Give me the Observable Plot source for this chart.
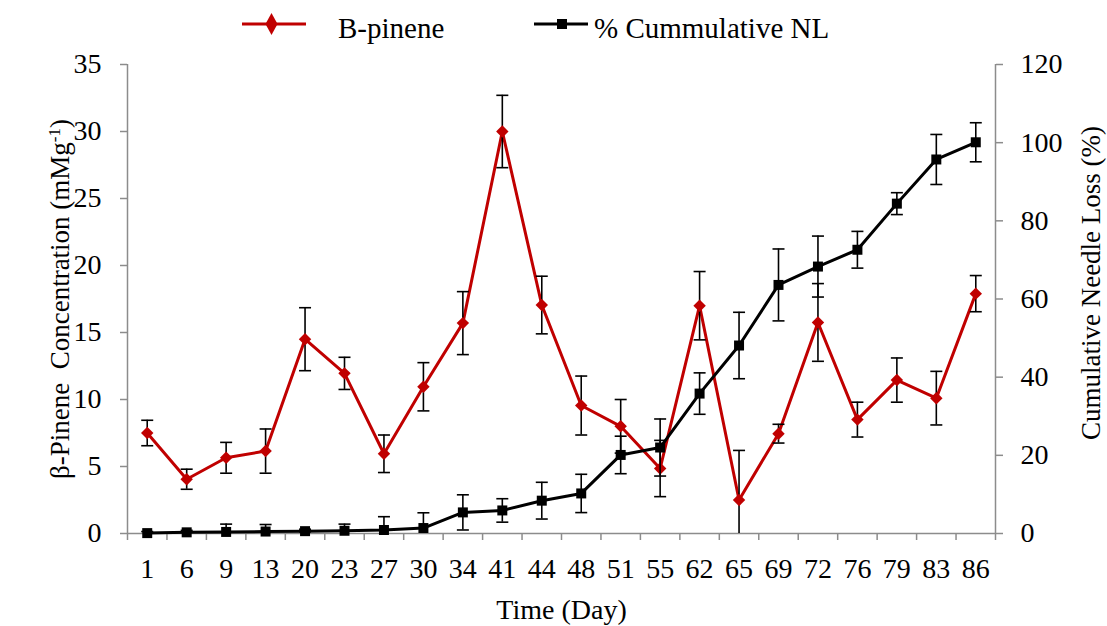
<!DOCTYPE html>
<html><head><meta charset="utf-8">
<script src="https://cdn.jsdelivr.net/npm/d3@7"></script>
<script src="https://cdn.jsdelivr.net/npm/@observablehq/plot@0.6"></script>
<style>
body{margin:0;background:#fff;}
#wrap{width:1107px;height:626px;position:relative;overflow:hidden;background:#fff;font-family:"Liberation Serif","Times New Roman",serif;}
#legend{position:relative;width:1107px;height:42px;}
#legend span{position:absolute;top:14px;font-size:29px;line-height:29px;white-space:nowrap;color:#000;}
#legend svg{position:absolute;left:0;top:0;}
#chart svg text{font-family:"Liberation Serif","Times New Roman",serif;}
</style></head><body>
<div id="wrap">
  <div id="legend">
    <svg width="1107" height="42">
      <line x1="242" x2="306" y1="24" y2="24" stroke="#C00000" stroke-width="3"/>
      <polygon points="271.5,13 277.5,24 271.5,35 265.5,24" fill="#C00000"/>
      <line x1="534" x2="588" y1="24" y2="24" stroke="#000" stroke-width="3"/>
      <rect x="557" y="19" width="10" height="10" fill="#000"/>
    </svg>
    <span id="lg1" style="left:338px"></span>
    <span id="lg2" style="left:594px"></span>
  </div>
  <div id="chart"></div>
</div>
<script>
// ---- data ----
const seriesNames = ["B-pinene", "% Cummulative NL"];
const days = [1, 6, 9, 13, 20, 23, 27, 30, 34, 41, 44, 48, 51, 55, 62, 65, 69, 72, 76, 79, 83, 86];
const pinene = [7.5, 4.05, 5.65, 6.15, 14.5, 11.95, 5.95, 10.95, 15.7, 30.0, 17.05, 9.55, 8.0, 4.85, 17.0, 2.5, 7.45, 15.75, 8.5, 11.45, 10.1, 17.9];
const pineneErr = [0.95, 0.75, 1.15, 1.65, 2.35, 1.2, 1.4, 1.8, 2.35, 2.7, 2.15, 2.2, 2.0, 2.1, 2.55, 3.7, 0.7, 2.9, 1.3, 1.65, 2.0, 1.35];
const needleLoss = [0.1, 0.3, 0.4, 0.5, 0.6, 0.7, 0.9, 1.4, 5.4, 5.9, 8.4, 10.25, 20.1, 22.0, 35.8, 48.1, 63.6, 68.3, 72.6, 84.4, 95.7, 100.1];
const needleLossErr = [0.4, 0.5, 2.0, 1.8, 0.5, 1.7, 3.4, 3.9, 4.5, 3.0, 4.7, 4.9, 4.8, 7.3, 5.3, 8.5, 9.2, 7.8, 4.7, 2.8, 6.4, 5.0];
const leftTicks = [0, 5, 10, 15, 20, 25, 30, 35];
const rightTicks = [0, 20, 40, 60, 80, 100, 120];
const xTitle = "Time (Day)";
const leftTitle = "β-Pinene  Concentration (mMg-1)";
const rightTitle = "Cumulative Needle Loss (%)";

// ---- build ----
document.getElementById("lg1").textContent = seriesNames[0];
document.getElementById("lg2").textContent = seriesNames[1];

const red = "#C00000", gray = "#8c8c8c";
const serif = '"Liberation Serif","Times New Roman",serif';
const k = leftTicks[leftTicks.length - 1] / rightTicks[rightTicks.length - 1];
const rows = days.map((day, i) => ({
  pos: i + 0.5, day,
  p: pinene[i], pe: pineneErr[i],
  n: needleLoss[i] * k, ne: needleLossErr[i] * k
}));
const capSym = {draw(ctx, size) { const h = Math.sqrt(size / Math.PI); ctx.moveTo(-h, 0); ctx.lineTo(h, 0); }};
const font = 28;
const blank = () => "";

const plot = Plot.plot({
  width: 1107, height: 584,
  marginTop: 22, marginBottom: 93, marginLeft: 127, marginRight: 112,
  style: {fontFamily: serif, fontSize: "28px", background: "white", color: "black", overflow: "visible"},
  x: {type: "linear", domain: [0, days.length], axis: null},
  y: {domain: [leftTicks[0], leftTicks[leftTicks.length - 1]], axis: null},
  marks: [
    Plot.ruleY([0], {stroke: gray, strokeWidth: 1.5}),
    Plot.ruleX([0, days.length], {stroke: gray, strokeWidth: 1.5}),
    // x axis: boundary ticks, centered labels
    Plot.axisX(d3.range(days.length + 1), {anchor: "bottom", tickSize: 7, stroke: gray, strokeWidth: 1.5, tickFormat: blank, label: null}),
    Plot.axisX(rows.map(d => d.pos), {anchor: "bottom", tickSize: 0, tickPadding: 25, tickFormat: v => days[Math.floor(v)], fontSize: font, fontFamily: serif, label: null, fill: "black"}),
    // left axis
    Plot.axisY(leftTicks, {anchor: "left", tickSize: 7, stroke: gray, strokeWidth: 1.5, tickFormat: blank, label: null}),
    Plot.axisY(leftTicks, {anchor: "left", tickSize: 0, tickPadding: 26, fontSize: font, fontFamily: serif, label: null, fill: "black"}),
    // right axis
    Plot.axisY(rightTicks.map(v => v * k), {anchor: "right", tickSize: 7, stroke: gray, strokeWidth: 1.5, tickFormat: blank, label: null}),
    Plot.axisY(rightTicks.map(v => v * k), {anchor: "right", tickSize: 0, tickPadding: 25, tickFormat: v => Math.round(v / k), fontSize: font, fontFamily: serif, label: null, fill: "black"}),
    // titles
    Plot.text([xTitle], {text: d => d, frameAnchor: "bottom", dy: 77, lineAnchor: "middle", textAnchor: "middle", fontSize: font, fontFamily: serif}),
    Plot.text([leftTitle], {text: d => d, frameAnchor: "left", rotate: -90, dx: -67, lineAnchor: "middle", textAnchor: "middle", fontSize: 27, fontFamily: serif}),
    Plot.text([rightTitle], {text: d => d, frameAnchor: "right", rotate: -90, dx: 96, dy: -16, lineAnchor: "middle", textAnchor: "middle", fontSize: 27, fontFamily: serif}),
    // B-pinene series
    Plot.line(rows, {x: "pos", y: "p", stroke: red, strokeWidth: 3}),
    Plot.ruleX(rows, {x: "pos", y1: d => d.p - d.pe, y2: d => d.p + d.pe, stroke: "black", strokeWidth: 1.6, clip: true}),
    Plot.dot(rows, {x: "pos", y: d => d.p + d.pe, symbol: capSym, r: 6, stroke: "black", fill: "none", strokeWidth: 1.6, clip: true}),
    Plot.dot(rows, {x: "pos", y: d => d.p - d.pe, symbol: capSym, r: 6, stroke: "black", fill: "none", strokeWidth: 1.6, clip: true}),
    Plot.dot(rows, {x: "pos", y: "p", symbol: "diamond2", r: 5.6, fill: red, stroke: "none"}),
    // Cumulative needle loss series (right axis)
    Plot.line(rows, {x: "pos", y: "n", stroke: "black", strokeWidth: 3}),
    Plot.ruleX(rows, {x: "pos", y1: d => d.n - d.ne, y2: d => d.n + d.ne, stroke: "black", strokeWidth: 1.6, clip: true}),
    Plot.dot(rows, {x: "pos", y: d => d.n + d.ne, symbol: capSym, r: 6, stroke: "black", fill: "none", strokeWidth: 1.6, clip: true}),
    Plot.dot(rows, {x: "pos", y: d => d.n - d.ne, symbol: capSym, r: 6, stroke: "black", fill: "none", strokeWidth: 1.6, clip: true}),
    Plot.dot(rows, {x: "pos", y: "n", symbol: "square", r: 5.64, fill: "black", stroke: "none"})
  ]
});

// superscript on the left axis title
plot.querySelectorAll("text").forEach(t => {
  if (t.textContent === leftTitle) {
    t.style.whiteSpace = "pre";
    t.textContent = "";
    const ns = "http://www.w3.org/2000/svg";
    const a = document.createElementNS(ns, "tspan"); a.textContent = "β-Pinene  Concentration (mMg";
    const b = document.createElementNS(ns, "tspan"); b.textContent = "-1"; b.setAttribute("dy", "-9"); b.setAttribute("font-size", "17");
    const c = document.createElementNS(ns, "tspan"); c.textContent = ")"; c.setAttribute("dy", "9");
    t.append(a, b, c);
  }
});
document.getElementById("chart").appendChild(plot);
</script>
</body></html>
